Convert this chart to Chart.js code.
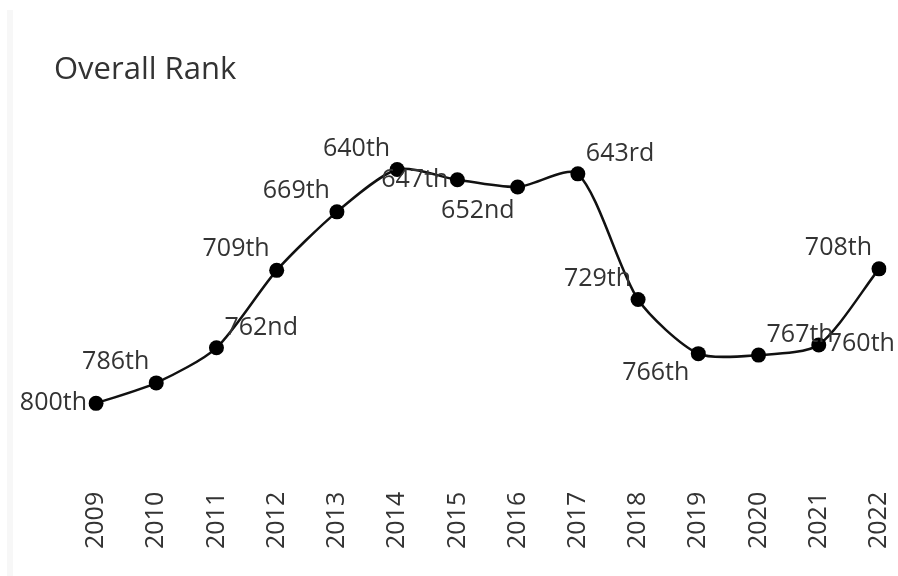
<!DOCTYPE html>
<html>
<head>
<meta charset="utf-8">
<script src="https://cdn.jsdelivr.net/npm/chart.js@4"></script>
<style>
    body { margin: 0; background: #fff; }
    #wrap { position: relative; width: 898px; height: 576px; }
    #strip { position: absolute; left: 7px; top: 10px; width: 6px; bottom: 0; background: #f7f7f7; }
    canvas { position: absolute; left: 0; top: 0; }
</style>
</head>
<body>
<div id="wrap">
    <div id="strip"></div>
    <canvas id="rank-chart" width="898" height="576"></canvas>
</div>
<script>
const years = ['2009', '2010', '2011', '2012', '2013', '2014', '2015', '2016', '2017', '2018', '2019', '2020', '2021', '2022'];
const ranks = [800, 786, 762, 709, 669, 640, 647, 652, 643, 729, 766, 767, 760, 708];
// where each rank label sits around its point
const labelSpots = ['left', 'top left', 'top right', 'top left', 'top left', 'top left', 'left',
    'bottom', 'top right', 'top left', 'bottom left', 'top right', 'right', 'top left'];

function ordinal(n) {
    const t = n % 100;
    if (t >= 11 && t <= 13) return n + 'th';
    switch (n % 10) {
        case 1: return n + 'st';
        case 2: return n + 'nd';
        case 3: return n + 'rd';
        default: return n + 'th';
    }
}

const spotOffsets = {
    'left': { dx: -9, dy: 0, align: 'right' },
    'right': { dx: 9, dy: -1, align: 'left' },
    'top left': { dx: -7, dy: -21, align: 'right' },
    'top right': { dx: 8, dy: -20, align: 'left' },
    'bottom left': { dx: -9, dy: 19, align: 'right' },
    'bottom': { dx: -3, dy: 24, align: 'right' }
};

const rankLabels = {
    id: 'rankLabels',
    afterDatasetsDraw(chart) {
        const ctx = chart.ctx;
        const meta = chart.getDatasetMeta(0);
        ctx.save();
        ctx.font = '25px "Open Sans"';
        ctx.fillStyle = '#333';
        ctx.textBaseline = 'middle';
        meta.data.forEach((pt, i) => {
            const o = spotOffsets[labelSpots[i]];
            ctx.textAlign = o.align;
            ctx.fillText(ordinal(ranks[i]), pt.x + o.dx, pt.y + o.dy);
        });
        ctx.restore();
    }
};

new Chart(document.getElementById('rank-chart'), {
    type: 'line',
    data: {
        labels: years,
        datasets: [{
            data: ranks,
            borderColor: '#111',
            backgroundColor: '#000',
            borderWidth: 2.5,
            pointRadius: 7.5,
            pointHoverRadius: 7.5,
            pointBackgroundColor: '#000',
            pointBorderWidth: 0,
            tension: 0.25,
            fill: false
        }]
    },
    options: {
        responsive: false,
        animation: false,
        layout: { padding: { left: 54, right: 19, top: 0, bottom: 24 } },
        plugins: {
            legend: { display: false },
            tooltip: { enabled: false },
            title: {
                display: true,
                text: 'Overall Rank',
                align: 'start',
                color: '#333',
                font: { family: 'Open Sans', size: 31, weight: 'normal' },
                padding: { top: 52, bottom: 31 }
            }
        },
        scales: {
            x: {
                offset: false,
                grid: { display: false },
                border: { display: false },
                ticks: {
                    color: '#333',
                    font: { family: 'Open Sans', size: 25 },
                    minRotation: 90,
                    maxRotation: 90,
                    autoSkip: false,
                    padding: 3
                },
                afterFit(s) { s.paddingLeft = 0; s.paddingRight = 0; }
            },
            y: {
                reverse: true,
                min: 606.3,
                max: 853,
                grid: { display: false },
                border: { display: false },
                ticks: { display: false },
                afterFit(s) { s.width = 42; }
            }
        }
    },
    plugins: [rankLabels]
});
</script>
</body>
</html>
